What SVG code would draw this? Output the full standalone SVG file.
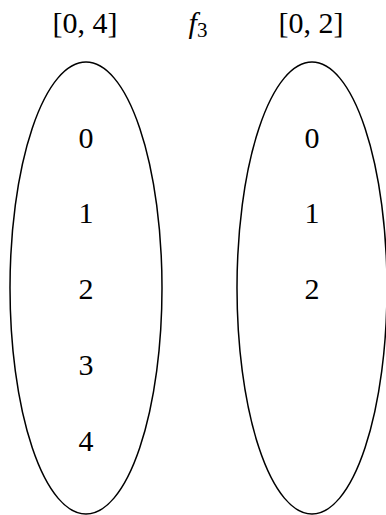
<svg xmlns="http://www.w3.org/2000/svg" width="386" height="515" viewBox="0 0 386 515">
<style>
text{font-family:"Liberation Serif","DejaVu Serif",serif;font-size:30px;fill:#000;text-anchor:middle}
.set{fill:none;stroke:#000;stroke-width:1.5}
</style>
<rect width="386" height="515" fill="#fff"/>
<g id="labels">
<text x="85" y="33">[0, 4]</text>
<text x="198" y="33"><tspan font-style="italic">f</tspan><tspan font-size="21" dy="4">3</tspan></text>
<text x="311" y="33">[0, 2]</text>
</g>
<g id="domain">
<ellipse class="set" cx="86" cy="288" rx="76" ry="226"/>
<text x="86" y="148">0</text>
<text x="86" y="223">1</text>
<text x="86" y="299">2</text>
<text x="86" y="375">3</text>
<text x="86" y="451">4</text>
</g>
<g id="codomain">
<ellipse class="set" cx="312" cy="288" rx="75" ry="226"/>
<text x="312" y="148">0</text>
<text x="312" y="223">1</text>
<text x="312" y="299">2</text>
</g>
<g id="connectors"></g>
</svg>
